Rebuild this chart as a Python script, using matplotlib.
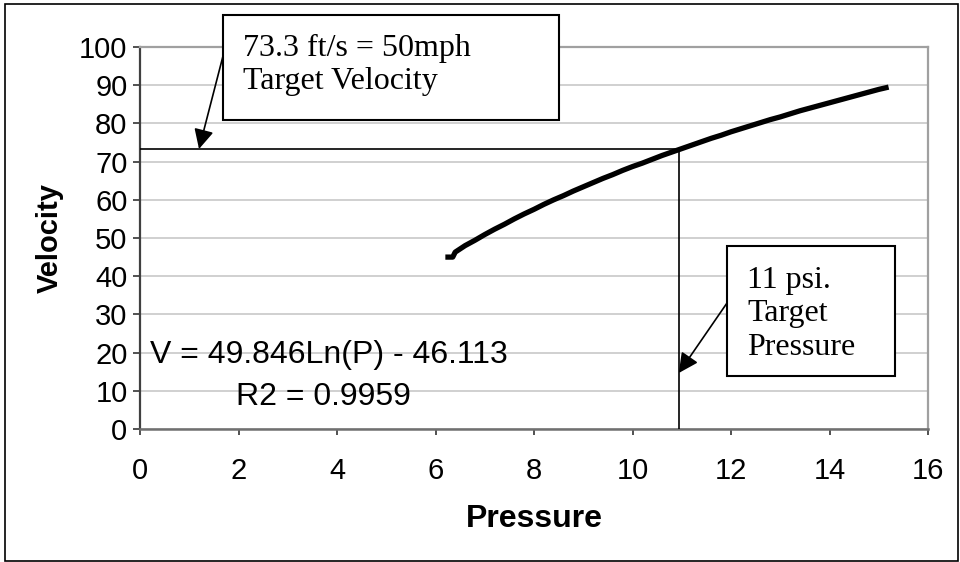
import matplotlib
matplotlib.use("Agg")
import matplotlib.pyplot as plt
from matplotlib.patches import Rectangle

# ---- data ----
pressure = [6.2, 6.35, 6.4, 6.6, 6.8, 7.0, 7.2, 7.4, 7.6, 7.8, 8.0, 8.2, 8.4, 8.6,
            8.8, 9.0, 9.2, 9.4, 9.6, 9.8, 10.0, 10.2, 10.4, 10.6, 10.8, 11.0,
            11.2, 11.4, 11.6, 11.8, 12.0, 12.2, 12.4, 12.6, 12.8, 13.0, 13.2,
            13.4, 13.6, 13.8, 14.0, 14.2, 14.4, 14.6, 14.8, 15.0, 15.2]
velocity = [45.0, 45.0, 46.3, 48.0, 49.4, 50.9, 52.3, 53.6, 55.0, 56.3, 57.5, 58.8,
            60.0, 61.1, 62.3, 63.4, 64.5, 65.6, 66.6, 67.7, 68.7, 69.6, 70.6,
            71.6, 72.5, 73.4, 74.3, 75.2, 76.1, 76.9, 77.8, 78.6, 79.4, 80.2,
            81.0, 81.7, 82.5, 83.3, 84.0, 84.7, 85.4, 86.1, 86.8, 87.5, 88.2,
            88.9, 89.5]
target_pressure = 10.94
target_velocity = 73.3
x_ticks = [0, 2, 4, 6, 8, 10, 12, 14, 16]
y_ticks = [0, 10, 20, 30, 40, 50, 60, 70, 80, 90, 100]
equation_text = "V = 49.846Ln(P) - 46.113"
r2_text = "R2 = 0.9959"
note_velocity = "73.3 ft/s = 50mph\nTarget Velocity"
note_pressure = "11 psi.\nTarget\nPressure"

W, H = 960, 562
fig = plt.figure(figsize=(W / 100, H / 100), dpi=100)

def fx(x):
    return x / W

def fy(y):
    return 1 - y / H

# axes placement (pixel measurements)
L, R, T, B = 140, 928, 47, 429
ax = fig.add_axes([fx(L), fy(B), (R - L) / W, (B - T) / H])

sans = ["Liberation Sans", "DejaVu Sans"]
serif = ["Liberation Serif", "DejaVu Serif"]

ax.set_xlim(0, 16)
ax.set_ylim(0, 100)
ax.set_xticks(x_ticks)
ax.set_yticks(y_ticks)
ax.set_xticklabels([str(v) for v in x_ticks], family=sans, fontsize=21)
ax.set_yticklabels([str(v) for v in y_ticks], family=sans, fontsize=21)
ax.tick_params(axis="x", direction="out", length=4, width=1.2, pad=16, color="#333333")
ax.tick_params(axis="y", direction="out", length=5, width=1.2, pad=4, color="#333333")

ax.grid(axis="y", color="#c8c8c8", linewidth=1.2)
ax.set_axisbelow(True)
for s in ("top", "right"):
    ax.spines[s].set_color("#a0a0a0")
    ax.spines[s].set_linewidth(1.6)
ax.spines["left"].set_color("#404040")
ax.spines["bottom"].set_color("#707070")
ax.spines["left"].set_linewidth(1.6)
ax.spines["bottom"].set_linewidth(1.8)

# target lines
ax.plot([0, target_pressure], [target_velocity, target_velocity], color="black", lw=1.2, zorder=3)
ax.plot([target_pressure, target_pressure], [0, target_velocity], color="black", lw=1.2, zorder=3)

# curve
ax.plot(pressure, velocity, color="black", lw=3.8, solid_joinstyle="round",
        solid_capstyle="butt", zorder=4)

ax.set_xlabel("Pressure", family=sans, fontsize=23, fontweight="bold", labelpad=14)
ax.set_ylabel("Velocity", family=sans, fontsize=21, fontweight="bold", labelpad=11)

# equation text
ax.text(fx(150), fy(355), equation_text, transform=fig.transFigure, family=sans,
        fontsize=23, ha="left", va="center", zorder=5)
ax.text(fx(236), fy(397), r2_text, transform=fig.transFigure, family=sans,
        fontsize=23, ha="left", va="center", zorder=5)

# annotation boxes
def box(x0, y0, x1, y1):
    r = Rectangle((fx(x0), fy(y1)), (x1 - x0) / W, (y1 - y0) / H,
                  transform=fig.transFigure, facecolor="white", edgecolor="black",
                  linewidth=1.5, zorder=10)
    fig.add_artist(r)

box(223, 15, 559, 120)
fig.text(fx(243), fy(65), note_velocity, family=serif, fontsize=23, ha="left",
         va="center", linespacing=1.2, zorder=11)

box(727, 246, 895, 376)
fig.text(fx(747), fy(314), note_pressure, family=serif, fontsize=23, ha="left",
         va="center", linespacing=1.2, zorder=11)

# arrows
arrow_style = "-|>,head_length=1.2,head_width=0.6"
ax.annotate("", xy=((199 - L) / (R - L) * 16, target_velocity),
            xytext=(223, H - 56), textcoords="figure pixels",
            arrowprops=dict(arrowstyle=arrow_style, color="black", lw=1.2,
                            shrinkA=0, shrinkB=0), zorder=9)
ax.annotate("", xy=(target_pressure, (B - 373) / (B - T) * 100),
            xytext=(727, H - 303), textcoords="figure pixels",
            arrowprops=dict(arrowstyle=arrow_style, color="black", lw=1.2,
                            shrinkA=0, shrinkB=0), zorder=9)

# outer frame
fig.add_artist(Rectangle((fx(5), fy(561)), (958 - 5) / W, (561 - 4) / H,
                         transform=fig.transFigure, fill=False, edgecolor="black",
                         linewidth=1.2))

fig.savefig("out.png", dpi=100)
